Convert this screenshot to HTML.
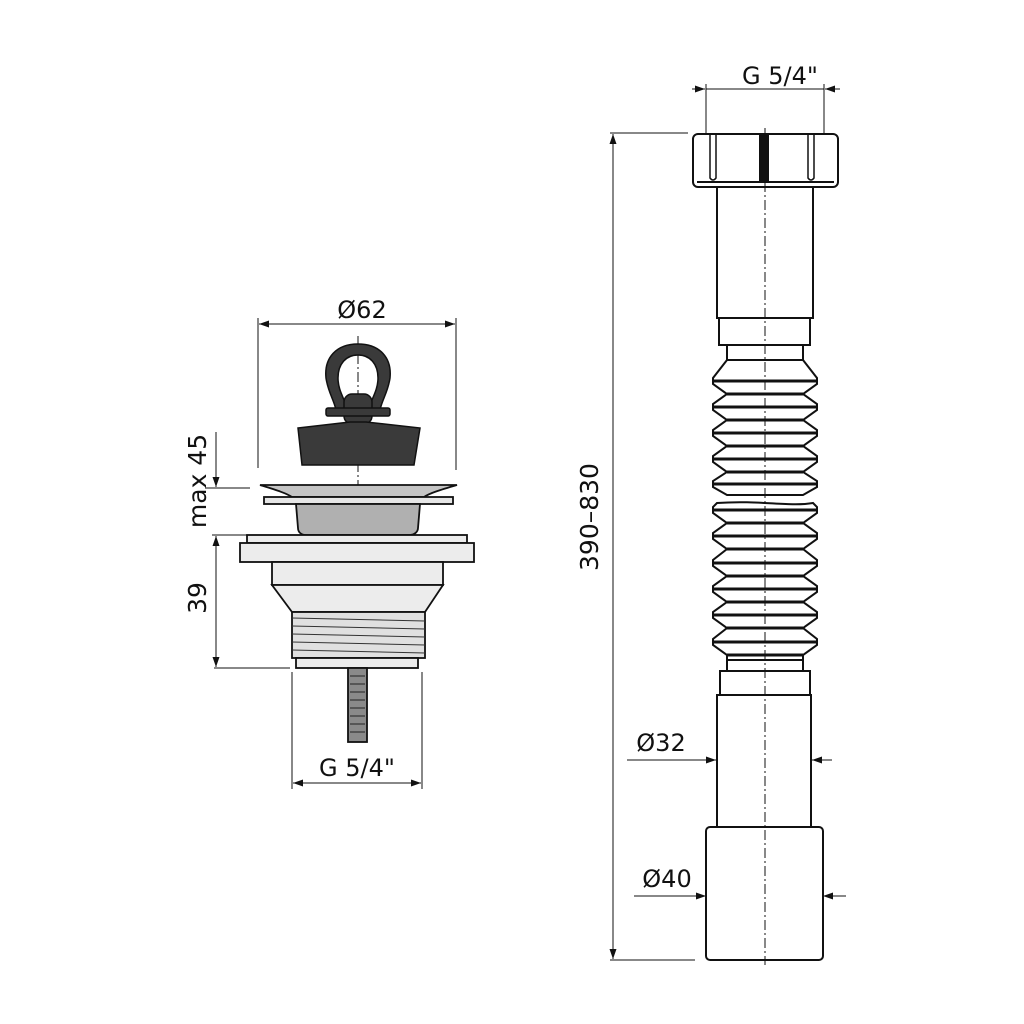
<!DOCTYPE html>
<html><head><meta charset="utf-8"><style>body{margin:0;background:#fff}svg{display:block}text{font-family:"DejaVu Sans","Liberation Sans",sans-serif;fill:#111}</style></head>
<body>
<svg width="1024" height="1024" viewBox="0 0 1024 1024" xmlns="http://www.w3.org/2000/svg">
<defs>
<marker id="a" viewBox="0 0 10 10" refX="10" refY="5" markerWidth="10" markerHeight="10" markerUnits="userSpaceOnUse" orient="auto-start-reverse"><path d="M0,1.5 L10,5 L0,8.5z" fill="#111"/></marker>
</defs>
<g stroke="#111" fill="none" stroke-width="1">
<!-- LEFT dims -->
<line x1="258" y1="318" x2="258" y2="468"/><line x1="456" y1="318" x2="456" y2="470"/>
<line x1="259" y1="324" x2="455" y2="324" marker-start="url(#a)" marker-end="url(#a)"/>
<line x1="216" y1="432" x2="216" y2="487" marker-end="url(#a)"/>
<line x1="205" y1="488" x2="250" y2="488"/>
<line x1="212" y1="535" x2="248" y2="535"/>
<line x1="216" y1="536" x2="216" y2="667" marker-start="url(#a)" marker-end="url(#a)"/>
<line x1="214" y1="668" x2="290" y2="668"/>
<line x1="292" y1="672" x2="292" y2="789"/><line x1="422" y1="672" x2="422" y2="789"/>
<line x1="293" y1="783" x2="421" y2="783" marker-start="url(#a)" marker-end="url(#a)"/>
<line x1="358" y1="336" x2="358" y2="672" stroke-dasharray="10,3,2,3"/>
</g>
<!-- stopper -->
<g fill="#3a3a3a" stroke="#111" stroke-width="1.5">
<path d="M358,344 C380,344 392,358 390,378 C388,392 382,400 380,410 L368,410 C372,398 378,390 378,378 C378,364 370,355 358,355 C346,355 338,364 338,378 C338,390 344,398 348,410 L336,410 C334,400 328,392 326,378 C324,358 336,344 358,344z"/>
<rect x="344" y="394" width="28" height="30" rx="8"/>
<rect x="326" y="408" width="64" height="8" rx="2"/>
<path d="M298,428 L350,422 L366,422 L420,428 L414,465 L302,465z"/>
</g>
<!-- flange -->
<g stroke="#111" stroke-width="1.8">
<path d="M260,485 L457,485 C440,490 430,493 424,497 L292,497 C286,493 276,490 260,485z" fill="#c4c4c4"/>
<rect x="264" y="497" width="189" height="7" fill="#e6e6e6"/>
<path d="M296,504 L420,504 L418,528 C418,532 414,535 410,535 L306,535 C301,535 298,532 298,528z" fill="#b0b0b0"/>
<rect x="247" y="535" width="220" height="8" fill="#ececec"/>
<rect x="240" y="543" width="234" height="19" fill="#ececec"/>
<rect x="272" y="562" width="171" height="23" fill="#ececec"/>
<path d="M272,585 L443,585 L425,612 L292,612z" fill="#ececec"/>
<rect x="292" y="612" width="133" height="46" fill="#e0e0e0"/>
<rect x="296" y="658" width="122" height="10" fill="#ececec"/>
<rect x="348" y="668" width="19" height="74" fill="#8a8a8a"/>
</g>
<g stroke="#333" stroke-width="1">
<line x1="292" y1="618" x2="425" y2="621"/><line x1="292" y1="626" x2="425" y2="629"/><line x1="292" y1="634" x2="425" y2="637"/><line x1="292" y1="642" x2="425" y2="645"/><line x1="292" y1="650" x2="425" y2="653"/>
<path d="M350,676h15M350,684h15M350,692h15M350,700h15M350,708h15M350,716h15M350,724h15M350,732h15" stroke="#222"/>
</g>
<text x="362" y="318" font-size="24" text-anchor="middle">Ø62</text>
<text x="357" y="776" font-size="24" text-anchor="middle">G 5/4"</text>
<text transform="translate(206,481) rotate(-90)" font-size="25" text-anchor="middle">max 45</text>
<text transform="translate(206,598) rotate(-90)" font-size="25" text-anchor="middle">39</text>

<!-- RIGHT dims -->
<g stroke="#111" fill="none" stroke-width="1">
<line x1="706" y1="84" x2="706" y2="133"/><line x1="824" y1="84" x2="824" y2="133"/>
<line x1="692" y1="89" x2="705" y2="89" marker-end="url(#a)"/>
<line x1="840" y1="89" x2="825" y2="89" marker-end="url(#a)"/>
<line x1="706" y1="89" x2="824" y2="89"/>
<line x1="610" y1="133" x2="688" y2="133"/><line x1="610" y1="960" x2="695" y2="960"/>
<line x1="613" y1="134" x2="613" y2="959" marker-start="url(#a)" marker-end="url(#a)"/>
<line x1="627" y1="760" x2="716" y2="760" marker-end="url(#a)"/>
<line x1="832" y1="760" x2="812" y2="760" marker-end="url(#a)"/>
<line x1="634" y1="896" x2="706" y2="896" marker-end="url(#a)"/>
<line x1="846" y1="896" x2="823" y2="896" marker-end="url(#a)"/>
</g>
<text x="780" y="84" font-size="24" text-anchor="middle">G 5/4"</text>
<text x="661" y="751" font-size="24" text-anchor="middle">Ø32</text>
<text x="667" y="887" font-size="24" text-anchor="middle">Ø40</text>
<text transform="translate(598,517) rotate(-90)" font-size="25" text-anchor="middle">390–830</text>

<g stroke="#111" stroke-width="2" fill="#fff">
<rect x="693" y="134" width="145" height="53" rx="5"/>
<line x1="697" y1="182" x2="834" y2="182"/>
<path d="M710,134 V178 Q713,182 716,178 V134 M808,134 V178 Q811,182 814,178 V134" fill="none" stroke-width="1.5"/>
<rect x="760" y="134" width="8" height="48" fill="#111"/>
<rect x="717" y="187" width="96" height="131"/>
<rect x="719" y="318" width="91" height="27"/>
<rect x="727" y="345" width="76" height="15"/>
<path d="M727,360 L713,378 L713,384 L727,394 L713,404 L713,410 L727,420 L713,430 L713,436 L727,446 L713,456 L713,462 L727,472 L713,481 L713,487 L727,495 L803,495 L817,487 L817,481 L803,472 L817,462 L817,456 L803,446 L817,436 L817,430 L803,420 L817,410 L817,404 L803,394 L817,384 L817,378 L803,360z"/>
<path d="M717,503 L713,507 L713,513 L727,523 L713,533 L713,539 L727,549 L713,560 L713,566 L727,576 L713,586 L713,592 L727,602 L713,612 L713,618 L727,628 L713,639 L713,645 L727,655 L727,660 L803,660 L803,655 L817,645 L817,639 L803,628 L817,618 L817,612 L803,602 L817,592 L817,586 L803,576 L817,566 L817,560 L803,549 L817,539 L817,533 L803,523 L817,513 L817,507 L813,503 C790,507 760,500 717,503z"/>
<rect x="727" y="660" width="76" height="11"/>
<rect x="720" y="671" width="90" height="24"/>
<rect x="717" y="695" width="94" height="132"/>
<rect x="706" y="827" width="117" height="133" rx="4"/>
</g>
<g stroke="#111" stroke-width="3">
<path d="M713,381H817M727,394H803M713,407H817M727,420H803M713,433H817M727,446H803M713,459H817M727,472H803M713,484H817"/>
<path d="M713,510H817M727,523H803M713,536H817M727,549H803M713,563H817M727,576H803M713,589H817M727,602H803M713,615H817M727,628H803M713,642H817M727,655H803"/>
</g>
<line x1="765" y1="128" x2="765" y2="965" stroke="#111" stroke-width="1" stroke-dasharray="10,3,2,3"/>
</svg>
</body></html>
